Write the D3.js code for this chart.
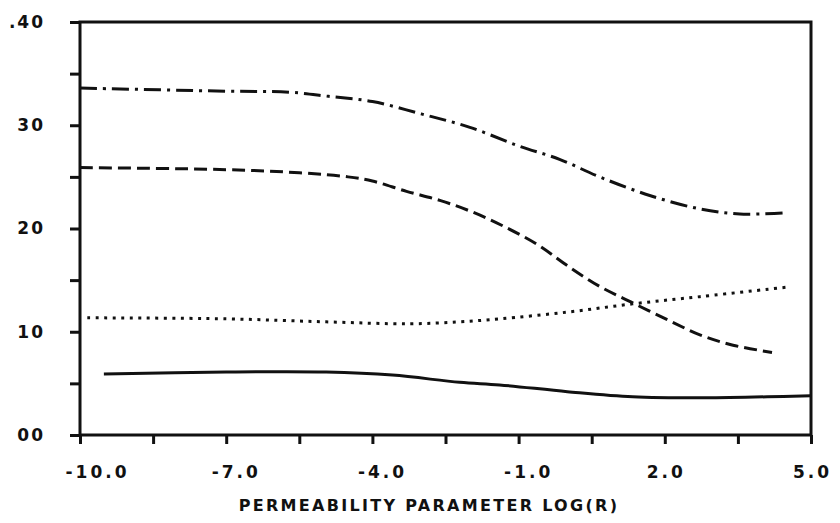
<!DOCTYPE html>
<html>
<head>
<meta charset="utf-8">
<script src="https://cdn.jsdelivr.net/npm/d3@7"></script>
<style>
  html, body { margin: 0; padding: 0; background: #fff; }
  svg { display: block; }
  .lbl { font-family: "DejaVu Sans", sans-serif; font-weight: bold; fill: #111; }
</style>
</head>
<body>
<svg id="chart" width="840" height="523"></svg>
<script>
// x positions (log of permeability parameter) and y values for each curve
const dashDotX = [-10, -7.0, -5.7, -4.9, -4.0, -3.0, -2.0, -1.0, -0.16, 0.66, 1.69, 2.72, 3.54, 4.42];
const dashDotY = [33.6, 33.3, 33.2, 32.8, 32.3, 31.1, 29.8, 28.0, 26.7, 25.0, 23.2, 21.9, 21.4, 21.5];

const dashedX = [-10, -7.0, -5.5, -4.5, -4.0, -3.3, -2.6, -1.95, -1.3, -0.6, 0.0, 0.66, 1.34, 2.04, 2.72, 3.4, 4.2];
const dashedY = [25.9, 25.7, 25.4, 25.0, 24.6, 23.6, 22.7, 21.6, 20.2, 18.4, 16.4, 14.4, 12.8, 11.2, 9.7, 8.7, 8.0];

const dottedX = [-9.85, -7.0, -4.95, -3.24, -2.21, -1.39, 0.0, 1.34, 2.72, 4.57];
const dottedY = [11.35, 11.25, 10.96, 10.77, 10.96, 11.25, 11.9, 12.7, 13.4, 14.35];

const solidX = [-9.51, -7.0, -4.95, -3.59, -2.21, -1.39, 0.0, 1.34, 2.72, 4.10, 5.0];
const solidY = [5.9, 6.1, 6.1, 5.8, 5.1, 4.85, 4.2, 3.7, 3.6, 3.7, 3.8];

const xTicks = [-10, -8.5, -7, -5.5, -4, -2.5, -1, 0.5, 2, 3.5, 5];
const xTickLabels = {"-10": "-10.0", "-7": "-7.0", "-4": "-4.0", "-1": "-1.0", "2": "2.0", "5": "5.0"};
const yTicks = [0, 5, 10, 15, 20, 25, 30, 35, 40];
const yTickLabels = {"0": "00", "10": "10", "20": "20", "30": "30", "40": ".40"};
const xTitle = "PERMEABILITY PARAMETER LOG(R)";

const svg = d3.select("#chart");
const plotLeft = 80, plotRight = 811, plotTop = 22, plotBottom = 435;

const x = d3.scaleLinear().domain([-10, 5]).range([plotLeft, plotRight]);
const y = d3.scaleLinear().domain([0, 40]).range([plotBottom, plotTop]);

// frame
svg.append("rect")
  .attr("x", plotLeft).attr("y", plotTop)
  .attr("width", plotRight - plotLeft).attr("height", plotBottom - plotTop)
  .attr("fill", "none").attr("stroke", "#111").attr("stroke-width", 3);

// y axis
const yAxis = svg.append("g")
  .attr("transform", `translate(${plotLeft},0)`)
  .call(d3.axisLeft(y).tickValues(yTicks).tickSize(10).tickPadding(25)
    .tickFormat(d => yTickLabels[String(d)] || ""));
yAxis.select(".domain").remove();
yAxis.selectAll(".tick line").attr("stroke", "#111").attr("stroke-width", 3);
yAxis.selectAll(".tick text").attr("class", "lbl")
  .style("font-size", "17px").style("letter-spacing", "2px");

// x axis; negative labels start just left of their tick (plotter style)
const xAxis = svg.append("g")
  .attr("transform", `translate(0,${plotBottom})`)
  .call(d3.axisBottom(x).tickValues(xTicks).tickSize(9).tickPadding(22)
    .tickFormat(d => xTickLabels[String(d)] || ""));
xAxis.select(".domain").remove();
xAxis.selectAll(".tick line").attr("stroke", "#111").attr("stroke-width", 3);
xAxis.selectAll(".tick text").attr("class", "lbl")
  .style("font-size", "17px").style("letter-spacing", "3px")
  .attr("text-anchor", d => d < 0 ? "start" : "middle")
  .attr("x", d => d < 0 ? -15 : 1);

// axis title
svg.append("text").attr("class", "lbl")
  .attr("x", 429).attr("y", 511)
  .attr("text-anchor", "middle")
  .style("font-size", "16px").style("letter-spacing", "2.3px")
  .text(xTitle);

// curves
const line = d3.line().x(d => x(d[0])).y(d => y(d[1])).curve(d3.curveCatmullRom.alpha(0.5));
const series = [
  { xs: dashDotX, ys: dashDotY, dash: "17,6,3,6" },
  { xs: dashedX, ys: dashedY, dash: "13,6" },
  { xs: dottedX, ys: dottedY, dash: "3,5.5" },
  { xs: solidX, ys: solidY, dash: null }
];
series.forEach(s => {
  const pts = s.xs.map((v, i) => [v, s.ys[i]]);
  svg.append("path")
    .datum(pts)
    .attr("d", line)
    .attr("fill", "none")
    .attr("stroke", "#111")
    .attr("stroke-width", 3)
    .attr("stroke-dasharray", s.dash);
});
</script>
</body>
</html>
